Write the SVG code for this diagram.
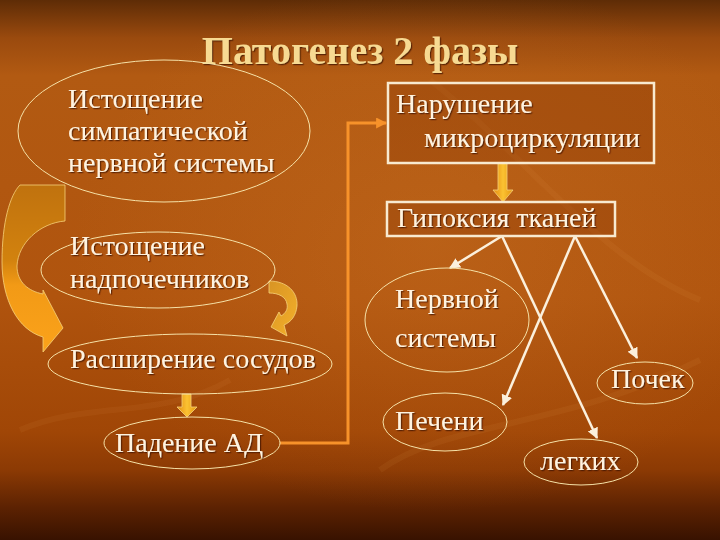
<svg xmlns="http://www.w3.org/2000/svg" width="720" height="540" viewBox="0 0 720 540">
<defs>
<linearGradient id="bg" x1="0" y1="0" x2="0" y2="1">
<stop offset="0" stop-color="#5e2c06"/>
<stop offset="0.07" stop-color="#9a4a0e"/>
<stop offset="0.14" stop-color="#b25a12"/>
<stop offset="0.55" stop-color="#b0540e"/>
<stop offset="0.8" stop-color="#a04606"/>
<stop offset="0.87" stop-color="#8c3a04"/>
<stop offset="0.94" stop-color="#5c2202"/>
<stop offset="1" stop-color="#381200"/>
</linearGradient>
<radialGradient id="glow" cx="0.6" cy="0.45" r="0.5">
<stop offset="0" stop-color="#d07a2a" stop-opacity="0.3"/>
<stop offset="1" stop-color="#d07a2a" stop-opacity="0"/>
</radialGradient>
<linearGradient id="bigArrow" x1="0" y1="0" x2="0" y2="1">
<stop offset="0" stop-color="#c0720e"/>
<stop offset="0.45" stop-color="#d2820e"/>
<stop offset="0.6" stop-color="#f29a16"/>
<stop offset="1" stop-color="#fba21a"/>
</linearGradient>
<linearGradient id="smallArrow" x1="0" y1="0" x2="1" y2="1">
<stop offset="0" stop-color="#d89424"/>
<stop offset="1" stop-color="#f4b02a"/>
</linearGradient>
<linearGradient id="downArrow" x1="0" y1="0" x2="1" y2="0">
<stop offset="0" stop-color="#e48a10"/>
<stop offset="0.5" stop-color="#fbc232"/>
<stop offset="1" stop-color="#e6950f"/>
</linearGradient>
<marker id="wh" viewBox="0 0 10 10" refX="9" refY="5" markerWidth="11" markerHeight="11" markerUnits="userSpaceOnUse" orient="auto">
<path d="M0,0 L10,5 L0,10 Z" fill="#fbf0dc"/>
</marker>
<marker id="oh" viewBox="0 0 10 10" refX="9" refY="5" markerWidth="11" markerHeight="11" markerUnits="userSpaceOnUse" orient="auto">
<path d="M0,0 L10,5 L0,10 Z" fill="#f7922a"/>
</marker>
<filter id="sh" x="-10%" y="-10%" width="120%" height="130%">
<feDropShadow dx="1.2" dy="1.2" stdDeviation="0.6" flood-color="#3a1000" flood-opacity="0.7"/>
</filter>
<style>
.t{font-family:"Liberation Serif","Times New Roman",serif;font-size:28px;fill:#fff3e0;filter:url(#sh)}
.title{font-family:"Liberation Serif","Times New Roman",serif;font-size:40px;font-weight:bold;fill:#f7da92;filter:url(#sh)}
.el{fill:none;stroke:#f6e2a8;stroke-width:1}
.box{fill:#7a2c00;fill-opacity:0.25;stroke:#f8ead0;stroke-width:2.5}
.wl{fill:none;stroke:#fbf0dc;stroke-width:2.5;marker-end:url(#wh)}
.ol{fill:none;stroke:#f7922a;stroke-width:3;marker-end:url(#oh)}
.ba{stroke:#f6d27a;stroke-width:0.8}
</style>
</defs>

<rect width="720" height="540" fill="url(#bg)"/>
<rect width="720" height="540" fill="url(#glow)"/>
<g opacity="0.07" fill="none" stroke="#f0b060" stroke-width="6">
<path d="M380,470 C450,420 560,430 700,360"/>
<path d="M430,80 C520,150 600,260 700,300"/>
<path d="M20,430 C90,400 160,420 230,380"/>
</g>

<text class="title" x="360" y="64" text-anchor="middle">Патогенез 2 фазы</text>

<g id="connectors">
<polyline class="ol" points="280,443 348,443 348,123 386,123"/>
<line class="wl" x1="502" y1="236" x2="450" y2="268"/>
<line class="wl" x1="575" y1="236" x2="503" y2="405"/>
<line class="wl" x1="502" y1="236" x2="597" y2="438"/>
<line class="wl" x1="575" y1="236" x2="637" y2="358"/>
<path class="ba" fill="url(#downArrow)" d="M498,163 L507,163 L507,190 L513,190 L503,202 L493,190 L498,190 Z"/>
<path class="ba" fill="url(#downArrow)" d="M182,394 L191,394 L191,407 L197,407 L187,417 L177,407 L182,407 Z"/>
<path id="bigCurved" class="ba" fill="url(#bigArrow)" d="M20,185 L65,185 L65,221 C40,223 18,243 17,266 C17,282 28,291 43,294 L43,290 L63,328 L43,352 L43,337 C18,330 2,300 2,262 C2,222 10,195 20,185 Z"/>
<path id="smallCurved" class="ba" fill="url(#smallArrow)" d="M269,281 C287,281 298,292 297,306 C296,316 291,322 284,325 L287,336 L271,327 L279,312 L281,316 C286,313 288,309 287,304 C286,297 279,293 269,293 Z"/>
</g>

<g id="n-sympathetic">
<ellipse class="el" cx="164" cy="131" rx="146" ry="71"/>
<text class="t" x="68" y="108">Истощение</text>
<text class="t" x="68" y="140">симпатической</text>
<text class="t" x="68" y="172">нервной системы</text>
</g>
<g id="n-adrenal">
<ellipse class="el" cx="158" cy="270" rx="117" ry="38"/>
<text class="t" x="70" y="255">Истощение</text>
<text class="t" x="70" y="288">надпочечников</text>
</g>
<g id="n-vasodilation">
<ellipse class="el" cx="190" cy="364" rx="142" ry="30"/>
<text class="t" x="70" y="368">Расширение сосудов</text>
</g>
<g id="n-bp">
<ellipse class="el" cx="192" cy="443" rx="88" ry="26"/>
<text class="t" x="115" y="452">Падение АД</text>
</g>
<g id="n-microcirc">
<rect class="box" x="388" y="83" width="266" height="80"/>
<text class="t" x="396" y="113">Нарушение</text>
<text class="t" x="424" y="147">микроциркуляции</text>
</g>
<g id="n-hypoxia">
<rect class="box" x="387" y="202" width="228" height="34"/>
<text class="t" x="397" y="227">Гипоксия тканей</text>
</g>
<g id="n-nervous">
<ellipse class="el" cx="447" cy="320" rx="82" ry="52"/>
<text class="t" x="395" y="308">Нервной</text>
<text class="t" x="395" y="347">системы</text>
</g>
<g id="n-kidney">
<ellipse class="el" cx="645" cy="383" rx="48" ry="21"/>
<text class="t" x="611" y="388">Почек</text>
</g>
<g id="n-liver">
<ellipse class="el" cx="445" cy="422" rx="62" ry="29"/>
<text class="t" x="395" y="430">Печени</text>
</g>
<g id="n-lungs">
<ellipse class="el" cx="581" cy="462" rx="57" ry="23"/>
<text class="t" x="540" y="470">легких</text>
</g>
</svg>
